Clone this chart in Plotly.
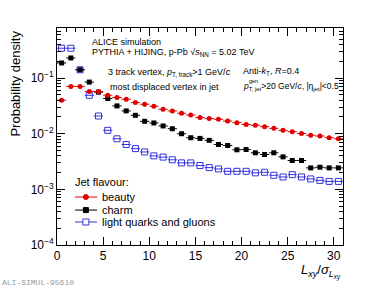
import plotly.graph_objects as go

# Bin centres of L_xy / sigma_Lxy (bin width 1)
bin_centres = [i + 0.5 for i in range(31)]
bin_halfwidth = 0.5

beauty = [0.040, 0.0708, 0.0708, 0.0575, 0.0575, 0.0493, 0.0448, 0.0417, 0.0363, 0.0339,
          0.0312, 0.0275, 0.0257, 0.0233, 0.0217, 0.0195, 0.0187, 0.0182, 0.0169, 0.0158,
          0.0146, 0.0142, 0.0134, 0.0125, 0.0115, 0.0109, 0.0101, 0.0094, 0.0091, 0.0085,
          0.0081]

charm = [0.187, 0.230, 0.141, 0.0847, 0.0558, 0.0430, 0.0316, 0.0257, 0.0214, 0.0167,
         0.0156, 0.0138, 0.0123, 0.0100, 0.00847, 0.00824, 0.0076, 0.0064, 0.00615, 0.00514,
         0.0052, 0.00454, 0.00423, 0.00454, 0.00384, 0.0033, 0.0033, 0.00243, 0.0025, 0.00243,
         0.00243]

light = [0.344, 0.344, 0.141, 0.049, 0.0208, 0.0115, 0.0081, 0.0064, 0.0054, 0.0047,
         0.0040, 0.0038, 0.0034, 0.00299, 0.00299, 0.00268, 0.00246, 0.00233, 0.00211, 0.00211,
         0.00211, 0.00198, 0.00203, 0.00179, 0.00167, 0.00184, 0.00167, 0.00154, 0.00145, 0.00139,
         0.00139]

series_names = ["beauty", "charm", "light quarks and gluons"]
legend_title = "Jet flavour:"
y_tick_vals = [1e-4, 1e-3, 1e-2, 1e-1]
y_tick_text = ["10<sup>\u22124</sup>", "10<sup>\u22123</sup>", "10<sup>\u22122</sup>", "10<sup>\u22121</sup>"]
x_tick_vals = [0, 5, 10, 15, 20, 25, 30]

RED = "#e00000"
BLACK = "#000000"
BLUE = "#3333dd"

fig = go.Figure()

specs = [
    (light, series_names[2], BLUE, dict(symbol="square-open", size=6, color=BLUE, line=dict(width=1, color=BLUE))),
    (charm, series_names[1], BLACK, dict(symbol="square", size=5, color=BLACK)),
    (beauty, series_names[0], RED, dict(symbol="circle", size=5, color=RED)),
]

for vals, name, col, mk in specs:
    fig.add_trace(go.Scatter(
        x=bin_centres, y=vals, mode="markers", name=name, marker=mk,
        error_x=dict(type="constant", value=bin_halfwidth, color=col, thickness=1, width=0),
        showlegend=False, hoverinfo="skip",
    ))

font_family = "Liberation Sans, Arial, sans-serif"

axis_common = dict(
    showline=True, linecolor="black", linewidth=1, mirror="ticks",
    ticks="inside", ticklen=8, tickcolor="black", tickwidth=1,
    showgrid=False, zeroline=False, automargin=False,
    tickfont=dict(family=font_family, size=12, color="black"),
)

fig.update_xaxes(
    range=[0, 31], tickmode="array", tickvals=x_tick_vals,
    minor=dict(ticks="inside", ticklen=4, dtick=1, tickcolor="black", showgrid=False),
    **axis_common,
)

minor_y = [m * 10 ** e for e in range(-4, 0) for m in range(2, 10)]
fig.update_yaxes(
    type="log", range=[-4, -0.1], tickmode="array", tickvals=y_tick_vals, ticktext=y_tick_text,
    minor=dict(ticks="inside", ticklen=4, tickmode="array", tickvals=minor_y, tickcolor="black", showgrid=False),
    **axis_common,
)

fig.add_annotation(xref="paper", yref="paper", x=-0.146, y=0.745, xanchor="center", yanchor="middle",
                   textangle=-90, showarrow=False, text="Probability density",
                   font=dict(family=font_family, size=13, color="black"))

ann_font = dict(family=font_family, size=9, color="black")
annotations = [
    dict(x=0.115, y=0.935, text="ALICE simulation"),
    dict(x=0.115, y=0.889, text="PYTHIA + HIJING, p-Pb \u221a<i>s</i><sub>NN</sub> = 5.02 TeV"),
    dict(x=0.171, y=0.797, text="3 track vertex, <i>p</i><sub>T, track</sub>&gt;1 GeV/<i>c</i>"),
    dict(x=0.179, y=0.727, text="most displaced vertex in jet"),
    dict(x=0.645, y=0.800, text="Anti-<i>k</i><sub>T</sub>, <i>R</i>=0.4"),
]
for a in annotations:
    fig.add_annotation(xref="paper", yref="paper", xanchor="left", yanchor="middle",
                       showarrow=False, font=ann_font, **a)
fig.add_annotation(xref="paper", yref="paper", x=0.645, y=0.730, xanchor="left", yanchor="middle",
                   showarrow=False,
                   text="<i>p</i><sub>T, jet</sub>&gt;20 GeV/<i>c</i>, |\u03b7<sub>jet</sub>|&lt;0.5",
                   font=dict(family=font_family, size=8.5, color="black"))
fig.add_annotation(xref="paper", yref="paper", x=0.663, y=0.756, xanchor="left", yanchor="middle",
                   showarrow=False, text="gen",
                   font=dict(family=font_family, size=5.5, color="black"))

# Manual legend (ROOT-like compact spacing)
leg_font = dict(family=font_family, size=11, color="black")
fig.add_annotation(xref="paper", yref="paper", x=0.056, y=0.290, xanchor="left", yanchor="middle",
                   showarrow=False, text=legend_title, font=leg_font)
leg_rows = [0.221, 0.161, 0.106]
leg_specs = [(series_names[0], RED, "circle", True),
             (series_names[1], BLACK, "rect", True),
             (series_names[2], BLUE, "rect", False)]
for yy, (name, col, shp, filled) in zip(leg_rows, leg_specs):
    fig.add_shape(type="line", xref="paper", yref="paper", x0=0.063, x1=0.140, y0=yy, y1=yy,
                  line=dict(color=col, width=1))
    half = 2.5 if filled else 3
    fig.add_shape(type=shp, xref="paper", yref="paper", xsizemode="pixel", ysizemode="pixel",
                  xanchor=0.101, yanchor=yy, x0=-half, x1=half, y0=-half, y1=half,
                  line=dict(color=col, width=1), fillcolor=col if filled else "white")
    fig.add_annotation(xref="paper", yref="paper", x=0.152, y=yy, xanchor="left", yanchor="middle",
                       showarrow=False, text=name, font=leg_font)

fig.add_annotation(xref="paper", yref="paper", x=1.0, y=-0.07, xanchor="right", yanchor="top",
                   showarrow=False,
                   text="<i>L</i><sub><i>xy</i></sub>/<i>\u03c3</i><sub><i>L</i><sub><i>xy</i></sub></sub>",
                   font=dict(family=font_family, size=13, color="black"))

fig.add_annotation(xref="paper", yref="paper", x=-0.2, y=-0.175, xanchor="left", yanchor="middle",
                   showarrow=False, text="ALI-SIMUL-95610",
                   font=dict(family="Liberation Mono, monospace", size=8, color="#999999"))

fig.update_layout(
    width=382, height=289,
    margin=dict(l=57, r=39, t=28, b=44),
    paper_bgcolor="white", plot_bgcolor="white",
    showlegend=False,
)

fig.write_html("out.html", config={"displayModeBar": False},
               post_script="document.body.style.margin='0px';")
